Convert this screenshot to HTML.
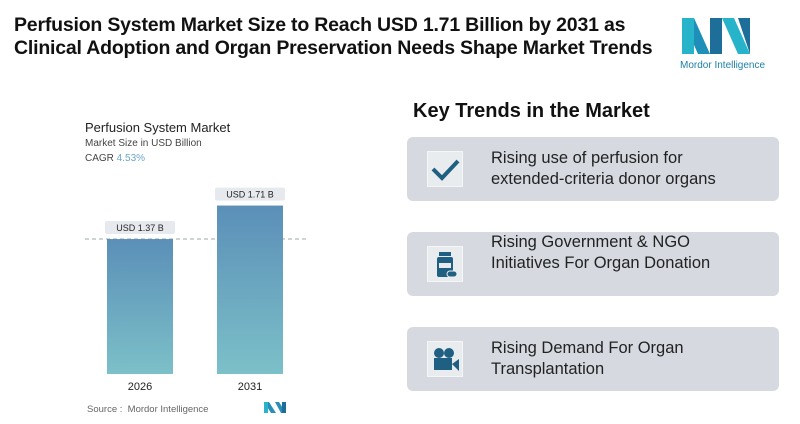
<!DOCTYPE html>
<html><head><meta charset="utf-8"><style>
body{margin:0;width:800px;height:424px;background:#fff;font-family:"Liberation Sans",sans-serif;position:relative;overflow:hidden}
.abs{position:absolute}
h1{position:absolute;left:14px;top:14px;margin:0;font-size:19.5px;line-height:23px;font-weight:bold;color:#111;letter-spacing:-0.2px}
.card{position:absolute;left:407px;width:372px;height:64px;background:#d6dae0;border-radius:6px}
.icon{position:absolute;left:20px;top:14px;width:34px;height:34px;background:#e9ecef;border:1px solid #f6f6f6}
.ct{position:absolute;left:84px;font-size:16.5px;line-height:21px;color:#222}
</style></head><body>
<h1>Perfusion System Market Size to Reach USD 1.71 Billion by 2031 as<br>Clinical Adoption and Organ Preservation Needs Shape Market Trends</h1>
<svg class="abs" style="left:680px;top:14px" width="90" height="60">
<polygon points="2,4 14,4 30,40 18,40" fill="#1d8fb8"/><polygon points="2,4 14,4 14,40 2,40" fill="#27b3c9"/>
<polygon points="30,4 42,4 42,40 30,40" fill="#1d6f9a"/><polygon points="42,4 54,4 70,40 58,40" fill="#27b3c9"/><polygon points="58,4 70,4 70,40" fill="#1d6f9a"/>
<text x="0" y="54" font-size="10" fill="#1d7fa8" font-family="Liberation Sans">Mordor Intelligence</text></svg>
<div class="abs" style="left:85px;top:120px;font-size:13px;color:#222">Perfusion System Market</div>
<div class="abs" style="left:85px;top:138px;font-size:10px;color:#444">Market Size in USD Billion</div>
<div class="abs" style="left:85px;top:153px;font-size:10px;color:#444">CAGR <span style="color:#6aa6c8">4.53%</span></div>
<svg id="ch" class="abs" style="left:0;top:0" width="400" height="424">
<defs><linearGradient id="g" x1="0" y1="0" x2="0" y2="1"><stop offset="0" stop-color="#5b8fb8"/><stop offset="1" stop-color="#7cc0c8"/></linearGradient></defs>
</svg>
<div class="abs" style="left:87px;top:404px;font-size:9.5px;color:#666">Source : &nbsp;Mordor Intelligence</div>
<svg class="abs" style="left:264px;top:402px" width="22" height="11"><polygon points="0,0 5,0 12,11 7,11" fill="#2a8fb8"/><polygon points="0,0 4,0 4,11 0,11" fill="#2ab3c9"/><polygon points="11,0 15,0 22,11 17,11" fill="#2a8fb8"/><rect x="18" y="0" width="4" height="11" fill="#1d6f9a"/></svg>
<div class="abs" style="left:413px;top:100px;font-size:20px;font-weight:bold;color:#111">Key Trends in the Market</div>
<div class="card" style="top:137px"><div class="icon"><svg width="34" height="34"><polyline points="5,17 14,26 30,9" fill="none" stroke="#1f5f82" stroke-width="4"/></svg></div><div class="ct" style="top:11px">Rising use of perfusion for<br>extended-criteria donor organs</div></div>
<div class="card" style="top:232px"><div class="icon"><svg width="34" height="34"><rect x="11" y="5" width="12" height="4" fill="#1f5f82"/><rect x="9" y="10" width="16" height="20" rx="2" fill="#1f5f82"/><rect x="11" y="16" width="12" height="5" fill="#e9ecef"/><rect x="19" y="24" width="10" height="6" rx="3" fill="#1f5f82" stroke="#e9ecef"/></svg></div><div class="ct" style="top:0px">Rising Government &amp; NGO<br>Initiatives For Organ Donation</div></div>
<div class="card" style="top:327px"><div class="icon"><svg width="34" height="34"><circle cx="11" cy="11" r="5" fill="#1f5f82"/><circle cx="21" cy="11" r="5" fill="#1f5f82"/><rect x="6" y="16" width="18" height="12" fill="#1f5f82"/><polygon points="24,22 31,17 31,29" fill="#1f5f82"/></svg></div><div class="ct" style="top:11px">Rising Demand For Organ<br>Transplantation</div></div>
<script>
const years=["2026","2031"];
const values=[1.37,1.71];
const labels=["USD 1.37 B","USD 1.71 B"];
const svg=document.getElementById('ch');const NS="http://www.w3.org/2000/svg";
const base=374,k=98.5;const y=v=>base-v*k;const x=i=>107+i*110;
function mk(t,a){const e=document.createElementNS(NS,t);for(const n in a)e.setAttribute(n,a[n]);svg.appendChild(e);return e;}
const dl=mk('line',{x1:85,x2:308,y1:y(values[0]),y2:y(values[0]),stroke:'#9aa',"stroke-dasharray":'4,3'});


values.forEach((v,i)=>{
const r=mk('rect',{x:x(i),y:y(v),width:66,height:v*k,fill:'url(#g)'});


const b=mk('rect',{x:x(i)-2,y:y(v)-18,width:70,height:13,fill:'#e6eaee',rx:2});


const t=mk('text',{x:x(i)+33,y:y(v)-8,"text-anchor":'middle',"font-size":9,fill:'#222'});t.textContent=labels[i];


const yt=mk('text',{x:x(i)+33,y:390,"text-anchor":'middle',"font-size":11,fill:'#222'});yt.textContent=years[i];


});
</script>
</body></html>
